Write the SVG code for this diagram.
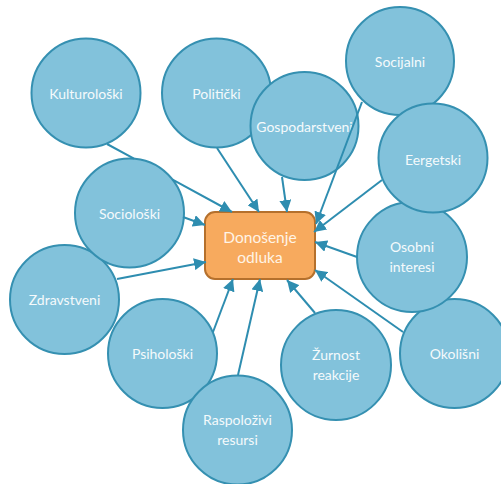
<svg xmlns="http://www.w3.org/2000/svg" width="501" height="484" viewBox="0 0 501 484">
<defs>
<style>
.c{fill:#82c2db;stroke:#3590b1;stroke-width:2}
.t{font-family:Lato,"Liberation Sans",sans-serif;font-size:14px;fill:#f5fafc;text-anchor:middle}
.r{fill:#f7aa5e;stroke:#b5702c;stroke-width:2}
.rt{font-family:Lato,"Liberation Sans",sans-serif;font-size:15.5px;fill:#fff4e6;text-anchor:middle}
.e{fill:none;stroke:#2e8db0;stroke-width:2;marker-end:url(#a)}
</style>
<marker id="a" markerUnits="userSpaceOnUse" markerWidth="13" markerHeight="12" refX="12" refY="6" orient="auto">
<path d="M0,0 L12,6 L0,12 Z" fill="#2e8db0"/>
</marker>
</defs>
<g id="kulturoloski"><circle class="c" cx="86" cy="93" r="54.5"/><text class="t" x="86" y="98.5">Kulturološki</text></g>
<g id="politicki"><circle class="c" cx="216.5" cy="93" r="54.5"/><text class="t" x="216.5" y="98.5">Politički</text></g>
<g id="gospodarstveni"><circle class="c" cx="304.5" cy="126" r="54"/><text class="t" x="304.5" y="131.5">Gospodarstveni</text></g>
<g id="socijalni"><circle class="c" cx="400" cy="61" r="54"/><text class="t" x="400" y="66.5">Socijalni</text></g>
<g id="okolisni"><circle class="c" cx="454.5" cy="353.5" r="54.5"/><text class="t" x="454.5" y="359">Okolišni</text></g>
<g id="osobni"><circle class="c" cx="412" cy="257" r="55"/><text class="t" x="412" y="252">Osobni</text><text class="t" x="412" y="272">interesi</text></g>
<g id="eergetski"><circle class="c" cx="433" cy="158" r="54.5"/><text class="t" x="433" y="164.5">Eergetski</text></g>
<g id="zdravstveni"><circle class="c" cx="64.5" cy="299.5" r="54.5"/><text class="t" x="64.5" y="305">Zdravstveni</text></g>
<g id="socioloski"><circle class="c" cx="129.5" cy="213" r="54.5"/><text class="t" x="129.5" y="218.5">Sociološki</text></g>
<g id="psiholoski"><circle class="c" cx="162.5" cy="353.5" r="54.5"/><text class="t" x="162.5" y="359">Psihološki</text></g>
<g id="raspolozivi"><circle class="c" cx="237.5" cy="430" r="54.5"/><text class="t" x="237.5" y="425">Raspoloživi</text><text class="t" x="237.5" y="445">resursi</text></g>
<g id="zurnost"><circle class="c" cx="336" cy="365" r="55"/><text class="t" x="336" y="360">Žurnost</text><text class="t" x="336" y="380">reakcije</text></g>
<g id="donosenje"><rect class="r" x="205" y="212" width="110" height="67" rx="10"/><text class="rt" x="260" y="242.5">Donošenje</text><text class="rt" x="260" y="262.5">odluka</text></g>
<g id="connectors">
<path class="e" d="M107,144 L134,158.7 M172.6,179.7 L232,212"/>
<path class="e" d="M183,217 L205,225"/>
<path class="e" d="M217,148 L259,212"/>
<path class="e" d="M282,177 L287,212"/>
<path class="e" d="M362,102 L316,224"/>
<path class="e" d="M382,180 L314,232"/>
<path class="e" d="M357,257 L315,242"/>
<path class="e" d="M403,332 L315,270"/>
<path class="e" d="M315,313 L287,280"/>
<path class="e" d="M238,375 L260,279"/>
<path class="e" d="M213,332 L233,279"/>
<path class="e" d="M117,279 L206,262"/>
</g>
</svg>
